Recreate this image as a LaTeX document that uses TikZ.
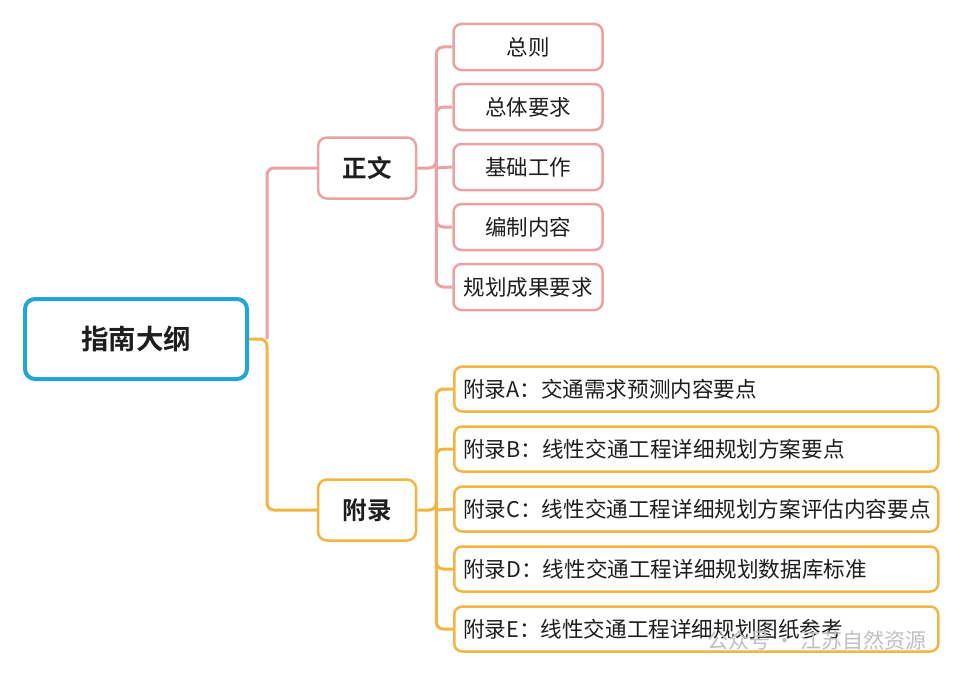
\documentclass[tikz,border=0pt]{standalone}
\usepackage{fontspec}
\setmainfont{Noto Sans CJK SC}[BoldFont={Noto Sans CJK SC Bold}]
\definecolor{MapBlue}{HTML}{22A5DA}
\definecolor{MapPink}{HTML}{EBA2A2}
\definecolor{MapOrange}{HTML}{F2B443}
\definecolor{MapText}{HTML}{1E1E1E}
\usetikzlibrary{positioning}

\tikzset{
  rootbox/.style={draw=MapBlue, line width=4pt, rounded corners=10pt, fill=white,
    minimum width=222pt, minimum height=80pt, inner sep=0pt, text=MapText,
    font=\fontsize{27.5}{30}\selectfont\bfseries},
  midbox/.style={line width=2.5pt, rounded corners=9pt, fill=white,
    minimum width=98pt, minimum height=61pt, inner sep=0pt, text=MapText,
    font=\fontsize{24.5}{28}\selectfont\bfseries},
  pinkleaf/.style={draw=MapPink, line width=2.5pt, rounded corners=8pt, fill=white,
    minimum width=149pt, minimum height=46pt, inner sep=0pt, text=MapText,
    font=\fontsize{21.5}{25}\selectfont},
  orangeleaf/.style={draw=MapOrange, line width=2.5pt, rounded corners=8pt, fill=white,
    anchor=west, text width=466pt, align=left, inner xsep=9pt, inner ysep=0pt,
    minimum height=45pt, text=MapText, font=\fontsize{21.6}{25}\selectfont},
  pinkline/.style={draw=MapPink, line width=3pt, rounded corners=7pt},
  orangeline/.style={draw=MapOrange, line width=3pt, rounded corners=7pt}
}

\begin{document}
\begin{tikzpicture}[x=1pt, y=-1pt]
  \useasboundingbox[fill=white] (0,0) rectangle (960,677);

  % nodes
  \node[rootbox] (root) at (136,339) {指南大纲};
  \node[midbox, draw=MapPink] (zhengwen) at (367,168) {正文};
  \node[midbox, draw=MapOrange] (fulu) at (367,510) {附录};

  \node[pinkleaf] (zongze) at (528,47) {总则};
  \node[pinkleaf] (zongti) at (528,107) {总体要求};
  \node[pinkleaf] (jichu) at (528,167) {基础工作};
  \node[pinkleaf] (bianzhi) at (528,227) {编制内容};
  \node[pinkleaf] (chengguo) at (528,287) {规划成果要求};

  \node[orangeleaf] (fuluA) at (453,389) {附录A：交通需求预测内容要点};
  \node[orangeleaf] (fuluB) at (453,449) {附录B：线性交通工程详细规划方案要点};
  \node[orangeleaf] (fuluC) at (453,509) {附录C：线性交通工程详细规划方案评估内容要点};
  \node[orangeleaf] (fuluD) at (453,569) {附录D：线性交通工程详细规划数据库标准};
  \node[orangeleaf] (fuluE) at (453,629) {附录E：线性交通工程详细规划图纸参考};

  % connectors
  \coordinate (trunk) at ([xshift=18pt]root.east);
  \draw[pinkline] (trunk) |- (zhengwen.west);
  \draw[orangeline] (root.east) -- (trunk) |- (fulu.west);

  \coordinate (zwfork) at ([xshift=19pt]zhengwen.east);
  \draw[pinkline] (zhengwen.east) -- (zwfork) |- (zongze.west);
  \draw[pinkline] (zwfork) |- (zongti.west);
  \draw[pinkline] (zwfork) -- (jichu.west);
  \draw[pinkline] (zwfork) |- (bianzhi.west);
  \draw[pinkline] (zwfork) |- (chengguo.west);

  \coordinate (flfork) at ([xshift=19pt]fulu.east);
  \draw[orangeline] (fulu.east) -- (flfork) |- (fuluA.west);
  \draw[orangeline] (flfork) |- (fuluB.west);
  \draw[orangeline] (flfork) -- (fuluC.west);
  \draw[orangeline] (flfork) |- (fuluD.west);
  \draw[orangeline] (flfork) |- (fuluE.west);

  % watermark
  \node[text=black!25, font=\fontsize{21}{24}\selectfont, anchor=east] (mark) at (930,640) {公众号 · 江苏自然资源};
\end{tikzpicture}
\end{document}
